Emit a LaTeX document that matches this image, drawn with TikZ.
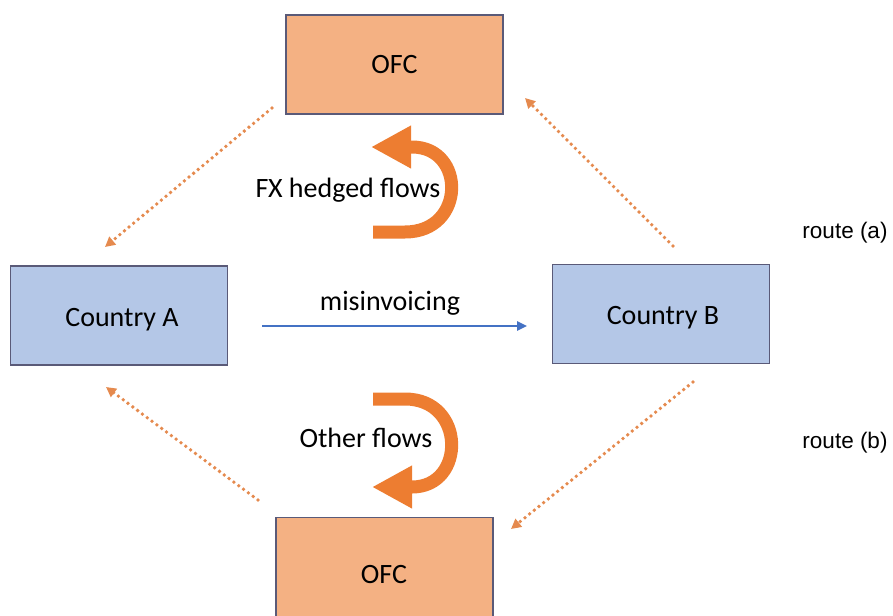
\documentclass[tikz,border=0pt]{standalone}
\usepackage{fontspec}
\setmainfont{Carlito}
\newfontfamily\arialfont{Liberation Sans}
\usetikzlibrary{arrows.meta}
\definecolor{ofcfill}{HTML}{F4B183}
\definecolor{ctyfill}{HTML}{B4C7E7}
\definecolor{boxline}{HTML}{5A5A78}
\definecolor{orng}{HTML}{ED7D31}
\definecolor{dotorng}{HTML}{E58A4E}
\definecolor{blu}{HTML}{4472C4}
\begin{document}
\begin{tikzpicture}[x=1pt,y=-1pt,
  boxstyle/.style={draw=boxline,line width=1.3pt,minimum width=217pt,minimum height=99pt,inner sep=0pt,font=\fontsize{28}{30}\selectfont},
  ofcbox/.style={boxstyle,fill=ofcfill},
  ctybox/.style={boxstyle,fill=ctyfill},
  dotarrow/.style={draw=dotorng,line width=3.8pt,line cap=round,dash pattern=on 0pt off 6pt,-{Triangle[length=10pt,width=10pt]}},
  bigarrow/.style={draw=orng,line width=13pt,-{Triangle[length=40pt,width=40pt]}},
  lbl/.style={font=\fontsize{28}{30}\selectfont,inner sep=0pt},
  routelbl/.style={font=\arialfont\fontsize{22.5}{24}\selectfont,inner sep=0pt}]
\useasboundingbox (0,0) rectangle (893,615);
\node[ofcbox] (ofct) at (394.5,64.5) {OFC};
\node[ofcbox] (ofcb) at (384.5,567) {};
\node[lbl] (ofcbt) at (384,575) {OFC};
\node[ctybox] (ca) at (119,315.5) {};
\node[lbl] (cat) at (122,320) {Country A};
\node[ctybox] (cb) at (661,314) {};
\node[lbl] (cbt) at (663,318) {Country B};
\coordinate (m1) at (262,326);
\coordinate (m2) at (527,326);
\draw[blu,line width=2.4pt,-{Triangle[length=10pt,width=9pt]}] (m1) -- (m2);
\node[lbl] (mis) at (390,303) {misinvoicing};
\coordinate (d1s) at (272,108); \coordinate (d1e) at (105,247);
\coordinate (d2s) at (673,246); \coordinate (d2e) at (525,98);
\coordinate (d3s) at (258,500); \coordinate (d3e) at (106,387);
\coordinate (d4s) at (693,382); \coordinate (d4e) at (511,529);
\draw[dotarrow] (d1s) -- (d1e);
\draw[dotarrow] (d2s) -- (d2e);
\draw[dotarrow] (d3s) -- (d3e);
\draw[dotarrow] (d4s) -- (d4e);
\coordinate (a1s) at (373,232); \coordinate (a1e) at (371,147);
\coordinate (a2s) at (373,399); \coordinate (a2e) at (372,487);
\draw[bigarrow] (a1s) -- (405,232) .. controls (466,232) and (466,147) .. (412,147) -- (a1e);
\draw[bigarrow] (a2s) -- (405,399) .. controls (466,399) and (466,487) .. (412,487) -- (a2e);
\node[lbl] (fx) at (348,190) {FX hedged flows};
\node[lbl] (oth) at (366,438) {Other flows};
\node[routelbl] (ra) at (845,233) {route (a)};
\node[routelbl] (rb) at (845,443) {route (b)};
\end{tikzpicture}
\end{document}
